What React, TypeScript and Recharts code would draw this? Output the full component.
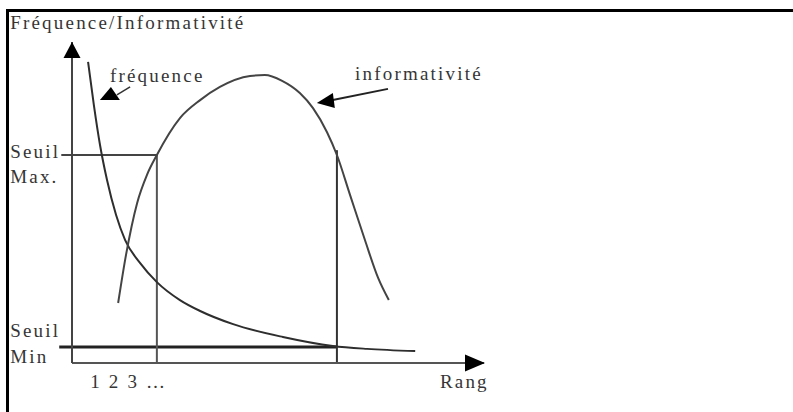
import React from 'react';
import { ComposedChart, Line, XAxis, YAxis, ReferenceLine, ReferenceDot } from 'recharts';

// Fréquence curve (rang -> valeur)
const freqRank = [3.9, 5.3, 6.8, 8.5, 10.7, 12.9, 16.5, 20.6, 26.2, 31.1, 39.1, 51.2, 63.3, 71.6, 83.3];
const freqValue = [93.8, 80.4, 67.9, 57.0, 46.1, 38.3, 31.2, 25.2, 19.6, 16.2, 12.1, 8.1, 5.3, 4.4, 3.7];

// Informativité curve
const infoRank = [11.2, 13.1, 15.8, 18.2, 20.6, 26.2, 31.1, 35.9, 43.2, 46.8, 51.0, 55.3, 58.5, 61.9, 64.3, 67.5, 71.1, 74.3, 76.9];
const infoValue = [18.7, 33.6, 49.8, 58.6, 64.8, 76.3, 81.9, 86.0, 89.4, 89.7, 87.9, 84.1, 79.4, 71.9, 64.8, 52.3, 38.3, 26.5, 19.6];

// Thresholds
const seuilMax = 64.8;
const seuilMin = 5.0;
const rangBas = 20.6;
const rangHaut = 64.3;
const seuilStart = -2.6;

// Text annotations (data coordinates)
const labelTexts = ['Fréquence/Informativité', 'fréquence', 'informativité', 'Seuil', 'Max.', 'Seuil', 'Min', '1 2 3 …', 'Rang'];
const labelX = [-15.0, 9.2, 68.7, -15.0, -15.0, -15.0, -15.0, 4.4, 89.3];
const labelY = [104.0, 87.5, 88.2, 63.9, 56.1, 8.1, 0.0, -7.8, -7.8];

// Pointer arrows: line from label to arrow head
const freqArrow = [{ x: 14.1, y: 86.0 }, { x: 10.9, y: 83.5 }];
const freqHead = { x: 9.2, y: 83.5 };
const infoArrow = [{ x: 76.7, y: 85.4 }, { x: 63.3, y: 81.9 }];
const infoHead = { x: 62.1, y: 81.6 };

const freqData = freqRank.map((x, i) => ({ x, y: freqValue[i] }));
const infoData = infoRank.map((x, i) => ({ x, y: infoValue[i] }));

const FONT = '"Liberation Serif", "Times New Roman", serif';
const INK = '#353535';

const TextShape = (text: string) => (p: any) => (
  <text
    x={p.cx}
    y={p.cy}
    fontFamily={FONT}
    fontSize={19}
    letterSpacing={2.2}
    fill={INK}
  >
    {text}
  </text>
);

const poly = (pts: number[][]) => (p: any) => (
  <polygon
    points={pts.map(([dx, dy]) => `${p.cx + dx},${p.cy + dy}`).join(' ')}
    fill="#000"
  />
);

export default function App() {
  return (
    <div style={{ position: 'absolute', left: 0, top: 0, width: 793, height: 412, background: '#fff' }}>
      <div
        style={{
          position: 'absolute',
          left: 6,
          top: 9,
          width: 787,
          height: 403,
          borderTop: '3px solid #000',
          borderLeft: '3px solid #000',
          boxSizing: 'border-box',
        }}
      />
      <div style={{ position: 'absolute', left: 0, top: 0 }}>
        <ComposedChart width={793} height={412} margin={{ top: 42, right: 309, bottom: 0, left: 0 }}>
          <XAxis
            type="number"
            dataKey="x"
            domain={[0, 100]}
            allowDataOverflow
            tick={false}
            tickLine={false}
            height={49}
            axisLine={{ stroke: '#555', strokeWidth: 2 }}
          />
          <YAxis
            type="number"
            dataKey="y"
            domain={[0, 100]}
            allowDataOverflow
            tick={false}
            tickLine={false}
            width={72}
            axisLine={{ stroke: '#444', strokeWidth: 2 }}
          />
          {/* threshold lines */}
          <ReferenceLine
            segment={[{ x: seuilStart, y: seuilMax }, { x: rangBas, y: seuilMax }]}
            stroke="#444"
            strokeWidth={2}
            ifOverflow="visible"
          />
          <ReferenceLine
            segment={[{ x: seuilStart - 0.5, y: seuilMin }, { x: rangHaut, y: seuilMin }]}
            stroke="#222"
            strokeWidth={3}
            ifOverflow="visible"
          />
          <ReferenceLine
            segment={[{ x: rangBas, y: seuilMax }, { x: rangBas, y: 0 }]}
            stroke="#555"
            strokeWidth={2}
            ifOverflow="visible"
          />
          <ReferenceLine
            segment={[{ x: rangHaut, y: seuilMax + 1.5 }, { x: rangHaut, y: 0 }]}
            stroke="#333"
            strokeWidth={2}
            ifOverflow="visible"
          />
          <Line
            data={freqData}
            dataKey="y"
            type="monotone"
            stroke="#2e2e2e"
            strokeWidth={2}
            dot={false}
            isAnimationActive={false}
          />
          <Line
            data={infoData}
            dataKey="y"
            type="monotone"
            stroke="#444"
            strokeWidth={2}
            dot={false}
            isAnimationActive={false}
          />
          {/* pointer arrows */}
          <ReferenceLine segment={freqArrow} stroke="#333" strokeWidth={1.5} ifOverflow="visible" />
          <ReferenceDot x={freqHead.x} y={freqHead.y} r={1} ifOverflow="visible" shape={poly([[1, -8], [-10, 5], [10, 5]])} />
          <ReferenceLine segment={infoArrow} stroke="#222" strokeWidth={2} ifOverflow="visible" />
          <ReferenceDot x={infoHead.x} y={infoHead.y} r={1} ifOverflow="visible" shape={poly([[-11, 2], [5, -8], [7, 7]])} />
          {/* axis arrow heads */}
          <ReferenceDot x={0} y={100} r={1} ifOverflow="visible" shape={poly([[0, 0], [-8.5, 16], [8.5, 16]])} />
          <ReferenceDot x={100} y={0} r={1} ifOverflow="visible" shape={poly([[1, 0], [-19, -8.5], [-19, 8.5]])} />
          {/* texts */}
          {labelTexts.map((t, i) => (
            <ReferenceDot
              key={i}
              x={labelX[i]}
              y={labelY[i]}
              r={1}
              ifOverflow="visible"
              shape={TextShape(t)}
            />
          ))}
        </ComposedChart>
      </div>
    </div>
  );
}
